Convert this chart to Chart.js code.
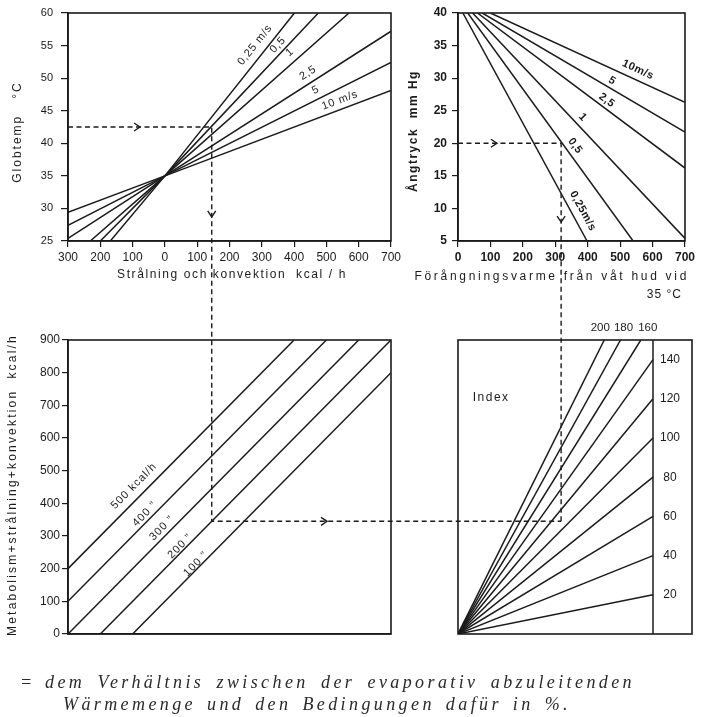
<!DOCTYPE html>
<html>
<head>
<meta charset="utf-8">
<script src="https://cdn.jsdelivr.net/npm/chart.js@4.4.1/dist/chart.umd.min.js"></script>
<style>
  html, body { margin: 0; padding: 0; background: #fff; }
  #page { position: relative; width: 709px; height: 717px; overflow: hidden; background: #fff; }
  #page canvas { position: absolute; }
  .cap { position: absolute; font-family: "Liberation Serif", "DejaVu Serif", serif; font-style: italic;
         font-size: 18px; line-height: 20px; color: #2a2a2a; white-space: nowrap; letter-spacing: 3.4px; }
  .just { text-align: justify; text-align-last: justify; white-space: normal; }
</style>
</head>
<body>
<div id="page">
  <canvas id="globe" width="405" height="300" style="left:0px;top:0px"></canvas>
  <canvas id="vapour" width="304" height="305" style="left:405px;top:0px"></canvas>
  <canvas id="load" width="400" height="330" style="left:0px;top:320px"></canvas>
  <canvas id="index" width="304" height="330" style="left:405px;top:320px"></canvas>
  <canvas id="guide" width="709" height="717" style="left:0px;top:0px;pointer-events:none"></canvas>
  <div class="cap" style="left:20px;top:672px;letter-spacing:0">=</div>
  <div class="cap just" style="left:45px;top:672px;width:590px;">dem Verhältnis zwischen der evaporativ abzuleitenden</div>
  <div class="cap just" style="left:63px;top:694px;width:508px;">Wärmemenge und den Bedingungen dafür in %.</div>
</div>
<script>
// ---------- Globe temperature (°C) against radiation + convection (kcal/h) ----------
const radRange = [-300, 700];          // kcal/h, left of 0 = heat loss
const globeRange = [25, 60];           // °C
const globeSpeeds = ['0,25 m/s', '0,5', '1', '2,5', '5', '10 m/s'];
const globeLow  = [[-169, 25], [-200, 25], [-231, 25], [-300, 25.4], [-300, 27.4], [-300, 29.4]];
const globePivot = [0, 35];
const globeHigh = [[401, 60], [475, 60], [570, 60], [700, 57.2], [700, 52.4], [700, 48.1]];

// ---------- Vapour pressure (mm Hg) against evaporation from wet skin at 35 °C ----------
const evapRange = [0, 700];            // kcal/h
const vapourRange = [5, 40];           // mm Hg
const vapourSpeeds = ['0,25m/s', '0,5', '1', '2,5', '5', '10m/s'];
const vapourTop = [[15, 40], [30, 40], [45, 40], [60, 40], [75, 40], [100, 40]];
const vapourEnd = [[398, 5], [540, 5], [700, 5.4], [700, 16.2], [700, 21.7], [700, 26.3]];

// ---------- Total heat load: metabolism + radiation + convection ----------
const loadRange = [0, 900];            // kcal/h
const metabolism = [500, 400, 300, 200, 100];
const metabolismText = ['500 kcal/h', '400 \u201D', '300 \u201D', '200 \u201D', '100 \u201D'];

// ---------- Index fan: required / possible evaporation in % ----------
const indexXRange = [0, 720];
const indexLevels = [20, 40, 60, 80, 100, 120, 140, 160, 180, 200];
const indexAxisAt = 600;

// ---------- Worked example ----------
const exGlobe = 42.5;   // °C
const exRad = 145;      // kcal/h
const exMetab = 200;    // kcal/h
const exVapour = 20;    // mm Hg
const exEvap = 318;     // kcal/h

// ---------- label anchors (data units) ----------
const globeLabelAt = [[279, 55.1], [350, 55.1], [387, 54.0], [443, 50.8], [467, 48.2], [542, 46.6]];
const vapourLabelAt = [[385, 9.6], [361, 19.6], [385, 24.0], [459, 26.6], [475, 29.6], [555, 31.3]];
const metabolismLabelAt = [[-96, 453], [-62, 367], [-9, 324], [47, 269], [96, 214]];
const indexTitleAt = [102, 722];
const indexTopShift = { 160: 7, 180: 3, 200: -4 };   // px, keeps the three top labels apart

const INK = '#1b1b1b';
const SANS = '"Liberation Sans", Arial, sans-serif';
const toXY = ([x, y]) => ({ x, y });

function loadLine(m) {
  const x0 = Math.max(radRange[0], loadRange[0] - m);
  const x1 = Math.min(radRange[1], loadRange[1] - m);
  return [{ x: x0, y: x0 + m }, { x: x1, y: x1 + m }];
}
function indexLine(k) {
  const xEnd = Math.min(indexAxisAt, loadRange[1] * 100 / k);
  return [{ x: 0, y: 0 }, { x: xEnd, y: xEnd * k / 100 }];
}

// Frame + free text drawn on top of each panel
const decor = {
  id: 'decor',
  afterDatasetsDraw(chart, _args, opts) {
    const { ctx, chartArea: a, scales } = chart;
    ctx.save();
    if (opts.box) {
      ctx.strokeStyle = INK; ctx.lineWidth = 1.6;
      ctx.strokeRect(a.left, a.top, a.right - a.left, a.bottom - a.top);
    }
    for (const t of opts.texts || []) {
      const x = t.data ? scales.x.getPixelForValue(t.data[0]) : t.px[0];
      const y = t.data ? scales.y.getPixelForValue(t.data[1]) : t.px[1];
      let rot = t.rot || 0;
      if (t.along) {
        const p = t.along.map(([u, v]) => [scales.x.getPixelForValue(u), scales.y.getPixelForValue(v)]);
        rot = Math.atan2(p[1][1] - p[0][1], p[1][0] - p[0][0]) * 180 / Math.PI;
      }
      ctx.save();
      ctx.translate(x + (t.dx || 0), y + (t.dy || 0));
      ctx.rotate(rot * Math.PI / 180);
      ctx.font = t.font || ('11px ' + SANS);
      ctx.letterSpacing = (t.spacing || 0) + 'px';
      ctx.textAlign = t.align || 'center';
      ctx.textBaseline = 'middle';
      ctx.fillStyle = INK;
      ctx.fillText(t.text, 0, 0);
      ctx.restore();
    }
    ctx.restore();
  }
};
Chart.register(decor);

function axis(o) {
  return {
    type: 'linear', min: o.range[0], max: o.range[1], display: o.display !== false,
    afterFit(s) {
      if (o.horizontal) s.height = o.size; else s.width = o.size;
      s.paddingLeft = s.paddingRight = s.paddingTop = s.paddingBottom = 0;
    },
    border: { display: true, color: INK, width: 1.6 },
    grid: { drawOnChartArea: false, drawTicks: !!o.step, tickLength: o.tickLen || 6, color: INK, lineWidth: 1.2 },
    ticks: {
      display: !!o.step, stepSize: o.step, autoSkip: false, maxRotation: 0, padding: o.pad || 3,
      color: INK, font: o.font || { family: SANS, size: 12 }, callback: o.fmt || (v => String(v))
    }
  };
}
function options(padding, x, y, decorOpts) {
  return {
    responsive: false, animation: false, events: [],
    layout: { padding },
    plugins: { legend: { display: false }, tooltip: { enabled: false }, decor: decorOpts },
    scales: { x, y }
  };
}
const lineStyle = { showLine: true, borderColor: INK, borderWidth: 1.5, pointRadius: 0 };

// ----- top left -----
const globeChart = new Chart(document.getElementById('globe'), {
  type: 'scatter',
  data: { datasets: globeSpeeds.map((s, i) => ({ label: s, data: [globeLow[i], globePivot, globeHigh[i]].map(toXY), ...lineStyle })) },
  options: options(
    { top: 13, right: 14, left: 0, bottom: 0 },
    axis({ range: radRange, step: 100, horizontal: true, size: 59, tickLen: 6, pad: 3, fmt: v => String(Math.abs(v)) }),
    axis({ range: globeRange, step: 5, size: 68, tickLen: 7, pad: 8, font: { family: SANS, size: 11 } }),
    {
      box: true,
      texts: [
        ...globeSpeeds.map((s, i) => ({ text: s, data: globeLabelAt[i], along: [globePivot, globeHigh[i]], spacing: 0.8 })),
        { text: 'Globtemp   °C', px: [18, 132], rot: -90, font: '12px ' + SANS, spacing: 2 },
        { text: 'Strålning och konvektion  kcal / h', px: [232, 275], font: '12px ' + SANS, spacing: 1.6 }
      ]
    })
});

// ----- top right -----
const vapourChart = new Chart(document.getElementById('vapour'), {
  type: 'scatter',
  data: { datasets: vapourSpeeds.map((s, i) => ({ label: s, data: [vapourTop[i], vapourEnd[i]].map(toXY), ...lineStyle })) },
  options: options(
    { top: 13, right: 24, left: 0, bottom: 0 },
    axis({ range: evapRange, step: 100, horizontal: true, size: 64, tickLen: 6, pad: 3, font: { family: SANS, size: 12, weight: 'bold' } }),
    axis({ range: vapourRange, step: 5, size: 53, tickLen: 6, pad: 5, font: { family: SANS, size: 12, weight: 'bold' } }),
    {
      box: true,
      texts: [
        ...vapourSpeeds.map((s, i) => ({ text: s, data: vapourLabelAt[i], along: [vapourTop[i], vapourEnd[i]], font: 'bold 11px ' + SANS, spacing: 0.5 })),
        { text: 'Ångtryck  mm Hg', px: [9, 131], rot: -90, font: 'bold 12px ' + SANS, spacing: 1.5 },
        { text: 'Förångningsvarme från våt hud vid', px: [284, 277], align: 'right', font: '12px ' + SANS, spacing: 2.7 },
        { text: '35 °C', px: [277, 295], align: 'right', font: '12px ' + SANS, spacing: 1 }
      ]
    })
});

// ----- bottom left -----
const loadChart = new Chart(document.getElementById('load'), {
  type: 'scatter',
  data: { datasets: metabolism.map((m, i) => ({ label: metabolismText[i], data: loadLine(m), ...lineStyle })) },
  options: options(
    { top: 20, right: 9, left: 0, bottom: 0 },
    axis({ range: radRange, horizontal: true, size: 16 }),
    axis({ range: loadRange, step: 100, size: 68, tickLen: 6, pad: 2 }),
    {
      box: true,
      texts: [
        ...metabolism.map((m, i) => ({ text: metabolismText[i], data: metabolismLabelAt[i], along: [[0, m], [100, m + 100]], spacing: 1 })),
        { text: 'Metabolism+strålning+konvektion  kcal/h', px: [13, 165], rot: -90, font: '12px ' + SANS, spacing: 2.2 }
      ]
    })
});

// ----- bottom right -----
const indexChart = new Chart(document.getElementById('index'), {
  type: 'scatter',
  data: {
    datasets: [
      ...indexLevels.map(k => ({ label: String(k), data: indexLine(k), ...lineStyle })),
      { label: 'index scale', data: [{ x: indexAxisAt, y: loadRange[0] }, { x: indexAxisAt, y: loadRange[1] }], ...lineStyle }
    ]
  },
  options: options(
    { top: 20, right: 17, left: 53, bottom: 16 },
    axis({ range: indexXRange, horizontal: true, size: 0, display: false }),
    axis({ range: loadRange, size: 0, display: false }),
    {
      box: true,
      texts: [
        { text: 'Index', data: indexTitleAt, font: '12px ' + SANS, spacing: 1.5 },
        ...indexLevels.map(k => {
          const end = indexLine(k)[1];
          return end.x >= indexAxisAt
            ? { text: String(k), data: [end.x, end.y], dx: 17, font: '12px ' + SANS }
            : { text: String(k), data: [end.x, end.y], dx: indexTopShift[k] || 0, dy: -12, font: '11.5px ' + SANS };
        })
      ]
    })
});

// ----- dashed reading path across the four panels -----
function pagePt(chart, u, v) {
  const c = chart.canvas;
  return [c.offsetLeft + chart.scales.x.getPixelForValue(u), c.offsetTop + chart.scales.y.getPixelForValue(v)];
}
(function drawGuide() {
  const ctx = document.getElementById('guide').getContext('2d');
  ctx.strokeStyle = INK; ctx.lineWidth = 1.4;
  const total = exMetab + exRad;
  const a0 = pagePt(globeChart, radRange[0], exGlobe);
  const a1 = pagePt(globeChart, exRad, exGlobe);
  const a2 = [a1[0], pagePt(loadChart, exRad, total)[1]];
  const b0 = pagePt(vapourChart, evapRange[0], exVapour);
  const b1 = pagePt(vapourChart, exEvap, exVapour);
  const b2 = [b1[0], a2[1]];
  const a3 = [b1[0], a2[1]];
  const poly = pts => { ctx.beginPath(); ctx.moveTo(...pts[0]); pts.slice(1).forEach(p => ctx.lineTo(...p)); ctx.stroke(); };
  ctx.setLineDash([5, 3.5]);
  poly([a0, a1, a2, a3]);
  poly([b0, b1, b2]);
  ctx.setLineDash([]);
  const arrow = ([x, y], dir) => {
    ctx.beginPath();
    if (dir === 'right') { ctx.moveTo(x - 6, y - 4); ctx.lineTo(x, y); ctx.lineTo(x - 6, y + 4); }
    else { ctx.moveTo(x - 4, y - 6); ctx.lineTo(x, y); ctx.lineTo(x + 4, y - 6); }
    ctx.stroke();
  };
  arrow(pagePt(globeChart, -77, exGlobe), 'right');
  arrow([a1[0], pagePt(globeChart, exRad, 28.7)[1]], 'down');
  arrow(pagePt(loadChart, 502, total), 'right');
  arrow(pagePt(vapourChart, 120, exVapour), 'right');
  arrow([b1[0], pagePt(vapourChart, exEvap, 7.9)[1]], 'down');
})();
</script>
</body>
</html>
